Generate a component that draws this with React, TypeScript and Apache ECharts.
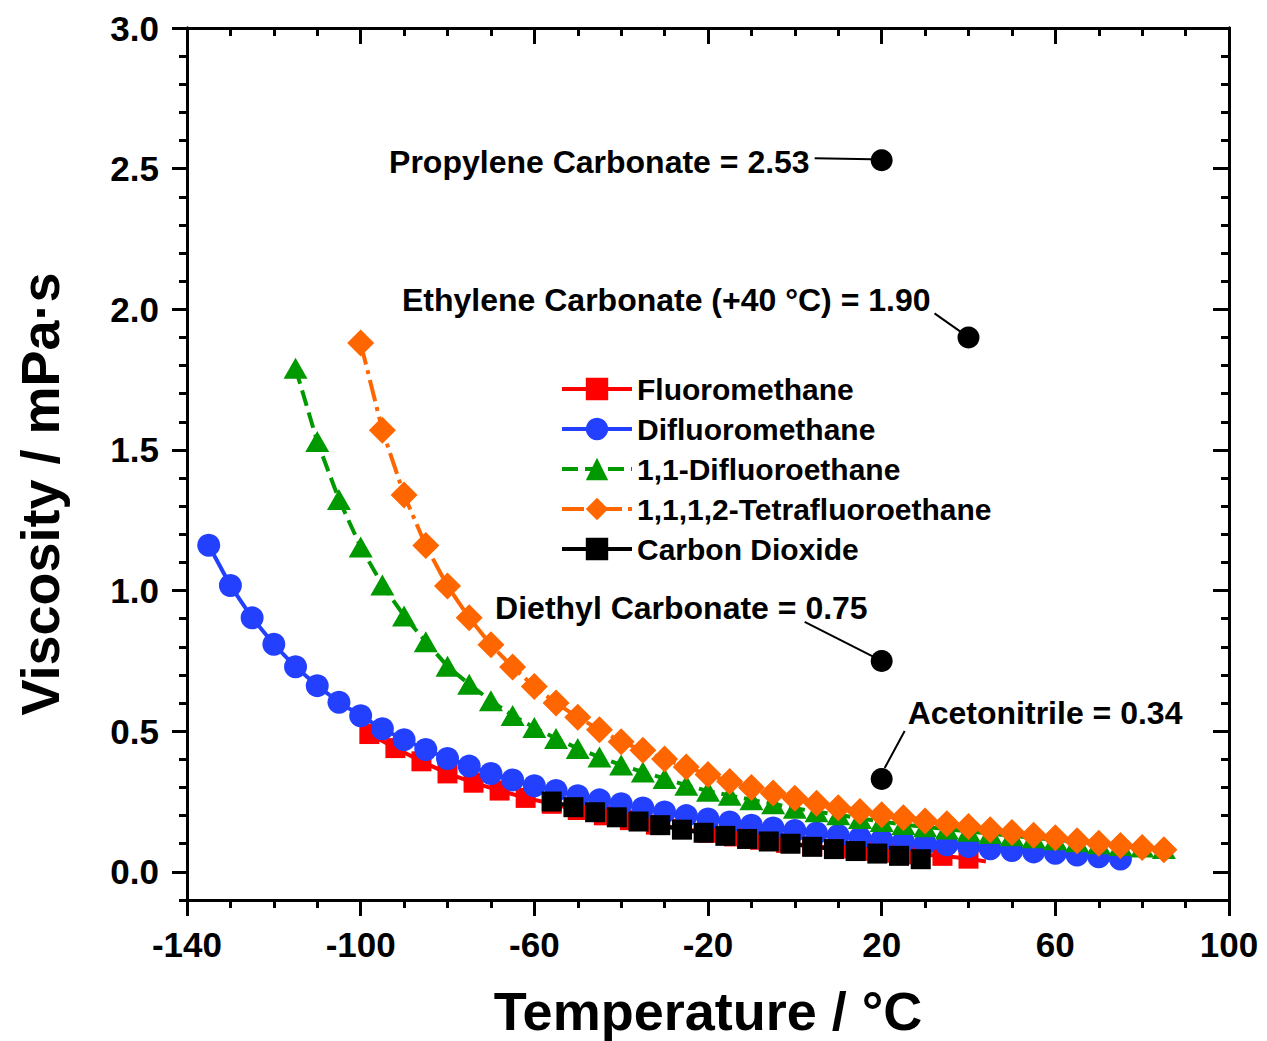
import React, { useEffect, useRef } from "react";
import * as echarts from "echarts";

// ---------- data ----------
const fluoroT = [-98, -92, -86, -80, -74, -68, -62, -56, -50, -44, -38, -32, -26, -20, -14, -8, -2, 4, 10, 16, 22, 28, 34, 40, 44];
const fluoroV = [0.49, 0.44, 0.393, 0.35, 0.317, 0.289, 0.263, 0.242, 0.22, 0.201, 0.184, 0.168, 0.153, 0.139, 0.126, 0.114, 0.103, 0.092, 0.083, 0.075, 0.068, 0.062, 0.057, 0.047, 0.037];

const difluoroT = [-135, -130, -125, -120, -115, -110, -105, -100, -95, -90, -85, -80, -75, -70, -65, -60, -55, -50, -45, -40, -35, -30, -25, -20, -15, -10, -5, 0, 5, 10, 15, 20, 25, 30, 35, 40, 45, 50, 55, 60, 65, 70, 75];
const difluoroV = [1.161, 1.018, 0.903, 0.809, 0.729, 0.662, 0.603, 0.555, 0.509, 0.47, 0.435, 0.403, 0.376, 0.35, 0.327, 0.306, 0.289, 0.271, 0.256, 0.242, 0.227, 0.213, 0.2, 0.188, 0.177, 0.166, 0.156, 0.147, 0.138, 0.129, 0.121, 0.114, 0.107, 0.101, 0.096, 0.09, 0.082, 0.076, 0.071, 0.066, 0.06, 0.054, 0.046];

const difluoroethT = [-115, -110, -105, -100, -95, -90, -85, -80, -75, -70, -65, -60, -55, -50, -45, -40, -35, -30, -25, -20, -15, -10, -5, 0, 5, 10, 15, 20, 25, 30, 35, 40, 45, 50, 55, 60, 65, 70, 75, 80, 85];
const difluoroethV = [1.79, 1.53, 1.324, 1.155, 1.02, 0.91, 0.818, 0.731, 0.667, 0.608, 0.556, 0.513, 0.474, 0.439, 0.408, 0.38, 0.355, 0.332, 0.308, 0.287, 0.272, 0.256, 0.242, 0.226, 0.214, 0.203, 0.19, 0.179, 0.168, 0.16, 0.152, 0.144, 0.136, 0.128, 0.121, 0.114, 0.107, 0.1, 0.094, 0.088, 0.083];

const tetraT = [-100, -95, -90, -85, -80, -75, -70, -65, -60, -55, -50, -45, -40, -35, -30, -25, -20, -15, -10, -5, 0, 5, 10, 15, 20, 25, 30, 35, 40, 45, 50, 55, 60, 65, 70, 75, 80, 85];
const tetraV = [1.88, 1.57, 1.34, 1.16, 1.016, 0.903, 0.807, 0.728, 0.659, 0.6, 0.55, 0.505, 0.463, 0.432, 0.401, 0.373, 0.346, 0.321, 0.3, 0.28, 0.262, 0.244, 0.228, 0.215, 0.203, 0.192, 0.181, 0.171, 0.161, 0.15, 0.14, 0.13, 0.121, 0.111, 0.102, 0.094, 0.087, 0.079];

const co2T = [-56, -51, -46, -41, -36, -31, -26, -21, -16, -11, -6, -1, 4, 9, 14, 19, 24, 29];
const co2V = [0.25, 0.23, 0.212, 0.194, 0.179, 0.166, 0.15, 0.139, 0.128, 0.117, 0.108, 0.1, 0.089, 0.081, 0.074, 0.065, 0.057, 0.045];

const seriesNames = ["Fluoromethane", "Difluoromethane", "1,1-Difluoroethane", "1,1,1,2-Tetrafluoroethane", "Carbon Dioxide"];

const refLabels = ["Propylene Carbonate = 2.53", "Ethylene Carbonate (+40 °C) = 1.90", "Diethyl Carbonate = 0.75", "Acetonitrile = 0.34"];
const refT = [20, 40, 20, 20];
const refV = [2.53, 1.9, 0.75, 0.33];

const xMajorTicks = [-140, -100, -60, -20, 20, 60, 100];
const yMajorTicks = [0, 0.5, 1, 1.5, 2, 2.5, 3];

// label / leader-line offsets (pixels) relative to each reference dot
const refLayout = [
  { dx: -72, dy: 2, align: "right", line: [[-67, -2], [-10, -1]] },
  { dx: -38, dy: -37, align: "right", line: [[-34, -24], [-7, -5]] },
  { dx: -14, dy: -53, align: "right", line: [[-77, -39], [-8, -4]] },
  { dx: 26, dy: -66, align: "left", line: [[23, -48], [3, -11]] },
];

const FONT = '"Liberation Sans", Arial, Helvetica, sans-serif';

function pairs(t: number[], v: number[]) {
  return t.map((x, i) => [x, v[i]]);
}

export default function App() {
  const ref = useRef<HTMLDivElement>(null);

  useEffect(() => {
    document.body.style.margin = "0";
    if (!ref.current) return;
    const chart = echarts.init(ref.current, null, { renderer: "svg" });

    const axisLine = { show: true, onZero: false, lineStyle: { color: "#000", width: 3 } };
    const tickLine = { color: "#000", width: 3 };

    const xBase = { type: "value", min: -140, max: 100, interval: 10, splitLine: { show: false }, axisLine };
    const yBase = { type: "value", min: -0.1, max: 3, interval: 0.1, splitLine: { show: false }, axisLine };

    const fluoroData: any[] = pairs(fluoroT, fluoroV).map((p, i) =>
      i === fluoroT.length - 1 ? { value: p, symbol: "none" } : p
    );

    const option: any = {
      animation: false,
      backgroundColor: "#fff",
      grid: { left: 187, right: 38, top: 28, bottom: 141, containLabel: false, outerBoundsMode: "none" },
      legend: {
        orient: "vertical",
        left: 555,
        top: 369,
        itemWidth: 70,
        itemHeight: 28,
        itemGap: 10,
        selectedMode: false,
        data: seriesNames,
        lineStyle: { width: 4 },
        textStyle: { fontSize: 30, fontWeight: "bold", fontFamily: FONT, color: "#000" },
      },
      xAxis: [
        { ...xBase, position: "bottom", axisTick: { show: true, length: 8, lineStyle: tickLine }, axisLabel: { show: false } },
        {
          ...xBase,
          position: "bottom",
          axisTick: { show: true, length: 16, customValues: xMajorTicks, lineStyle: tickLine },
          axisLabel: { show: true, customValues: xMajorTicks, margin: 27, fontSize: 35, fontWeight: "bold", fontFamily: FONT, color: "#000" },
          name: "Temperature / °C",
          nameLocation: "middle",
          nameGap: 84,
          nameTextStyle: { fontSize: 54, fontWeight: "bold", fontFamily: FONT, color: "#000" },
        },
        { ...xBase, position: "top", axisTick: { show: true, inside: true, length: 8, lineStyle: tickLine }, axisLabel: { show: false } },
        { ...xBase, position: "top", axisTick: { show: true, inside: true, length: 16, customValues: xMajorTicks, lineStyle: tickLine }, axisLabel: { show: false } },
      ],
      yAxis: [
        { ...yBase, position: "left", axisTick: { show: true, length: 8, lineStyle: tickLine }, axisLabel: { show: false } },
        {
          ...yBase,
          position: "left",
          axisTick: { show: true, length: 15, customValues: yMajorTicks, lineStyle: tickLine },
          axisLabel: {
            show: true,
            customValues: yMajorTicks,
            margin: 28,
            fontSize: 35,
            fontWeight: "bold",
            fontFamily: FONT,
            color: "#000",
            formatter: (v: number) => v.toFixed(1),
          },
          name: "Viscosity / mPa·s",
          nameLocation: "middle",
          nameGap: 120,
          nameTextStyle: { fontSize: 54, fontWeight: "bold", fontFamily: FONT, color: "#000", padding: [0, 60, 0, 0] },
        },
        { ...yBase, position: "right", axisTick: { show: true, inside: true, length: 8, lineStyle: tickLine }, axisLabel: { show: false } },
        { ...yBase, position: "right", axisTick: { show: true, inside: true, length: 16, customValues: yMajorTicks, lineStyle: tickLine }, axisLabel: { show: false } },
      ],
      series: [
        {
          name: seriesNames[0],
          type: "line",
          data: fluoroData,
          symbol: "rect",
          symbolSize: 20,
          color: "#FF0000",
          lineStyle: { width: 4, color: "#FF0000" },
          itemStyle: { color: "#FF0000" },
        },
        {
          name: seriesNames[1],
          type: "line",
          data: pairs(difluoroT, difluoroV),
          symbol: "circle",
          symbolSize: 23,
          color: "#2340FF",
          lineStyle: { width: 4, color: "#2340FF" },
          itemStyle: { color: "#2340FF" },
        },
        {
          name: seriesNames[2],
          type: "line",
          data: pairs(difluoroethT, difluoroethV),
          symbol: "triangle",
          symbolSize: [24, 21],
          color: "#009900",
          lineStyle: { width: 4, color: "#009900", type: [16, 7] },
          itemStyle: { color: "#009900" },
        },
        {
          name: seriesNames[3],
          type: "line",
          data: pairs(tetraT, tetraV),
          symbol: "diamond",
          symbolSize: 27,
          color: "#FF6600",
          lineStyle: { width: 4, color: "#FF6600", type: [22, 6, 4, 6] },
          itemStyle: { color: "#FF6600" },
        },
        {
          name: seriesNames[4],
          type: "line",
          data: pairs(co2T, co2V),
          symbol: "rect",
          symbolSize: 20,
          color: "#000000",
          lineStyle: { width: 4, color: "#000000" },
          itemStyle: { color: "#000000" },
        },
        {
          name: "Reference solvents",
          type: "scatter",
          data: pairs(refT, refV),
          symbol: "circle",
          symbolSize: 22,
          itemStyle: { color: "#000", opacity: 1 },
          z: 5,
        },
      ],
    };

    chart.setOption(option);

    const gfx: any[] = [];
    refT.forEach((t, i) => {
      const p = chart.convertToPixel({ xAxisIndex: 0, yAxisIndex: 0 }, [t, refV[i]]) as number[];
      const L = refLayout[i];
      gfx.push({
        type: "line",
        z: 10,
        shape: { x1: p[0] + L.line[0][0], y1: p[1] + L.line[0][1], x2: p[0] + L.line[1][0], y2: p[1] + L.line[1][1] },
        style: { stroke: "#000", lineWidth: 2 },
      });
      gfx.push({
        type: "text",
        z: 10,
        x: p[0] + L.dx,
        y: p[1] + L.dy,
        style: {
          text: refLabels[i],
          fill: "#000",
          font: `bold 32px ${FONT}`,
          align: L.align,
          verticalAlign: "middle",
          textAlign: L.align,
          textVerticalAlign: "middle",
        },
      });
    });
    chart.setOption({ graphic: gfx });

    return () => chart.dispose();
  }, []);

  return <div ref={ref} style={{ width: 1267, height: 1041 }} />;
}
